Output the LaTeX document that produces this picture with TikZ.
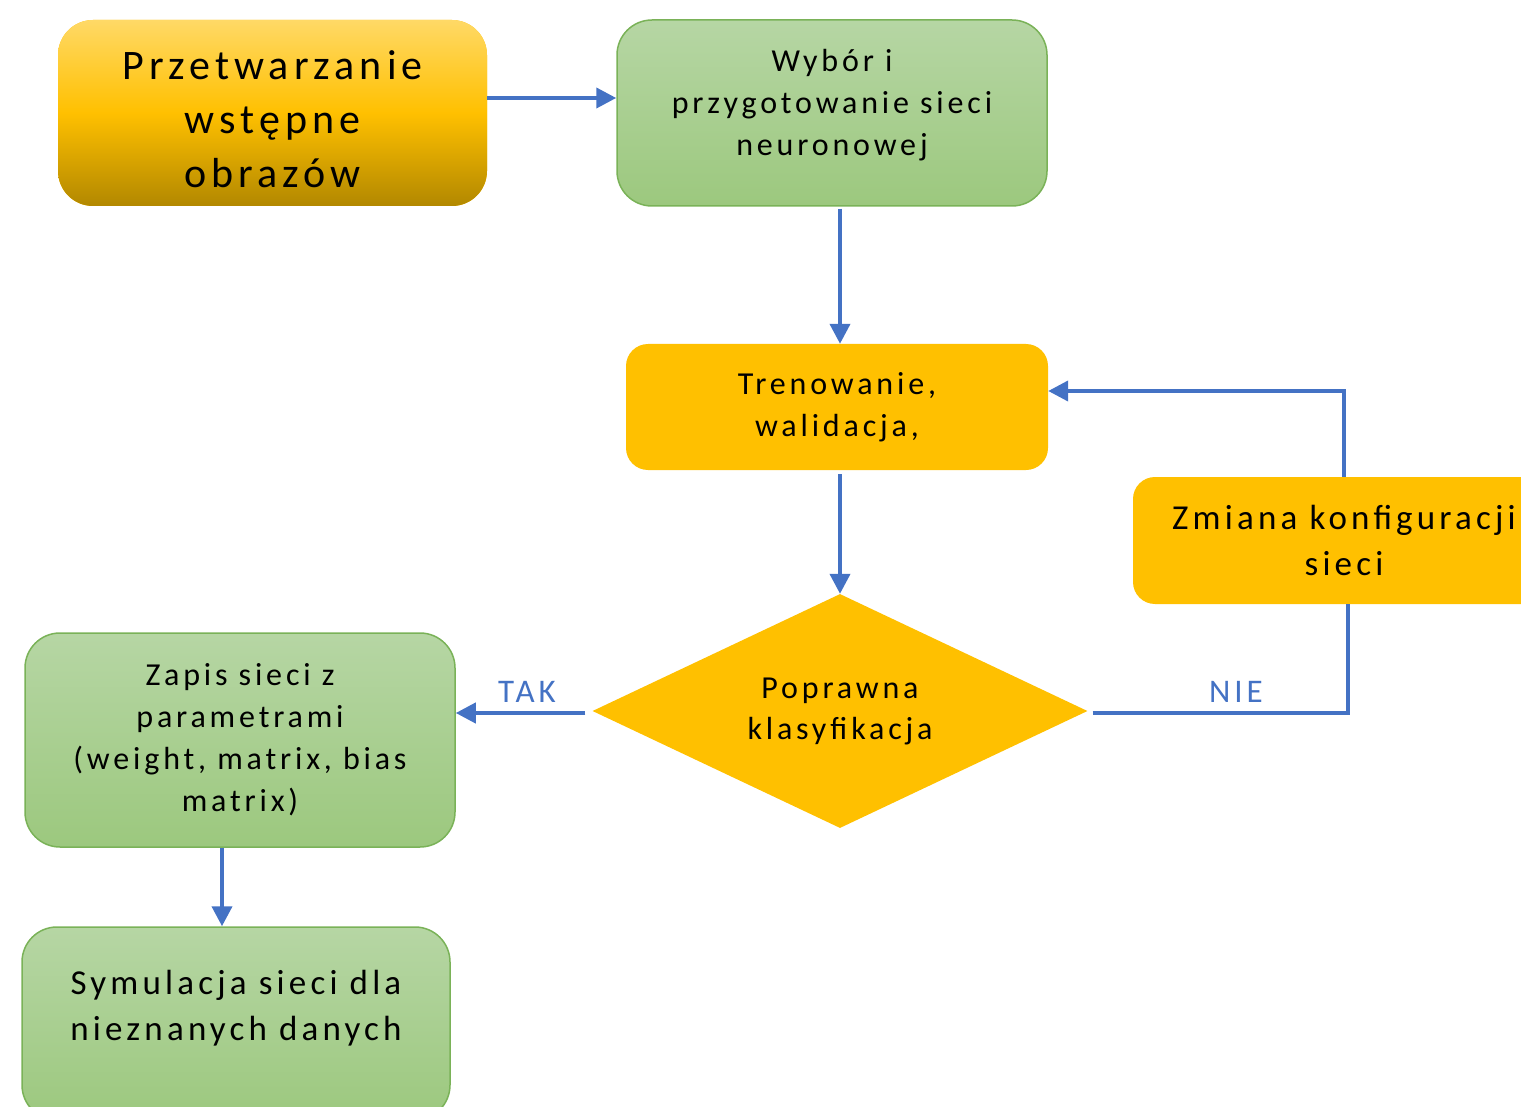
\documentclass[tikz,border=0pt]{standalone}
\usepackage{fontspec}
\setmainfont{Carlito}[LetterSpace=12]
\usepackage{xcolor}
\usetikzlibrary{arrows.meta,shapes.geometric}

\definecolor{flowblue}{RGB}{68,114,196}
\definecolor{amber}{RGB}{255,192,0}
\definecolor{amberlight}{RGB}{255,217,102}
\definecolor{amberdark}{RGB}{178,136,0}
\definecolor{greentop}{RGB}{182,214,164}
\definecolor{greenbot}{RGB}{156,200,126}
\definecolor{greenline}{RGB}{122,178,88}

\tikzset{
  gbox/.style={draw=greenline,line width=1.5pt,rounded corners=35pt,
    top color=greentop,bottom color=greenbot,align=center,inner sep=0pt},
  ybox/.style={fill=amber,rounded corners=22pt,align=center,inner sep=0pt},
  txt/.style={align=center,inner sep=0pt},
  flowline/.style={draw=flowblue,line width=4pt},
  flow/.style={flowline,-{Triangle[length=20pt,width=20pt]}},
  tag/.style={text=flowblue,font=\fontsize{33}{40}\selectfont}
}

\begin{document}
\begin{tikzpicture}[x=1pt,y=1pt,yscale=-1,xscale=1]
\useasboundingbox (0,0) rectangle (1521,1107);
\clip (0,0) rectangle (1521,1107);

% Boxes
\node [ybox,rounded corners=35pt,minimum width=429pt,minimum height=186pt,
  top color=amberlight,bottom color=amberdark,middle color=amber] (pre) at (272.5,113) {};
\node [txt,font=\fontsize{42}{54}\selectfont] (pretxt) at (272.5,119)
  {Przetwarzanie\\wstępne\\obrazów};
\node [gbox,minimum width=430pt,minimum height=186pt] (wyb) at (832,113) {};
\node [txt,font=\fontsize{32}{42}\selectfont] (wybtxt) at (832,105)
  {Wybór i\\przygotowanie sieci\\neuronowej};
\node [ybox,minimum width=422pt,minimum height=126pt,
  font=\fontsize{32}{42}\selectfont] (tren) at (837,407)
  {Trenowanie,\\walidacja,};
\node [ybox,minimum width=422pt,minimum height=127pt,
  font=\fontsize{35}{46}\selectfont] (zmi) at (1344,540.5)
  {Zmiana konfiguracji\\sieci};
\node [diamond,fill=amber,aspect=2.1,minimum width=495pt,minimum height=234pt,
  inner sep=0pt,align=center,font=\fontsize{32}{41}\selectfont] (dec) at (840,711)
  {Poprawna\\klasyfikacja};
\node [gbox,minimum width=430pt,minimum height=214pt,
  font=\fontsize{32}{42}\selectfont] (zap) at (240,740)
  {Zapis sieci z\\parametrami\\(weight, matrix, bias\\matrix)};
\node [gbox,minimum width=428pt,minimum height=193pt] (sym) at (236,1023.5) {};
\node [txt,font=\fontsize{35}{46}\selectfont] (symtxt) at (236,1008)
  {Symulacja sieci dla\\nieznanych danych};

% Connectors
\draw [flow] ([yshift=-15pt]pre.east) -- ([yshift=-15pt]wyb.west);
\draw [flow,shorten <=2pt] ([xshift=8pt]wyb.south) -- ([xshift=8pt]wyb.south |- tren.north);
\draw [flow,shorten <=4pt] (tren.south -| dec.north) -- (dec.north);
\draw [flow,shorten <=7pt] ([yshift=2pt]dec.west) -- ([yshift=2pt]dec.west -| zap.east);
\draw [flowline,shorten <=5pt] ([yshift=2pt]dec.east) -| ([xshift=4pt]zmi.south);
\draw [flow] (zmi.north) |- ([yshift=-16pt]tren.east);
\draw [flow] ([xshift=-18pt]zap.south) -- ([xshift=-18pt]zap.south |- sym.north);

% Labels
\node [tag] (tak) at (527,692) {TAK};
\node [tag] (nie) at (1236,692) {NIE};

\end{tikzpicture}
\end{document}
